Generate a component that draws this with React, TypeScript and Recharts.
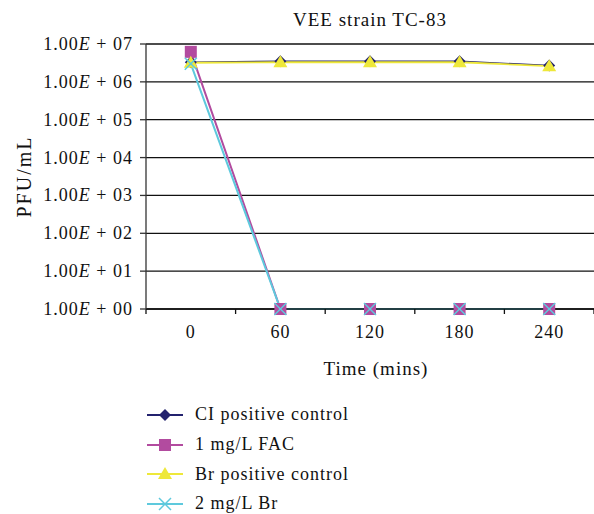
import React from 'react'
import {
  LineChart,
  Line,
  XAxis,
  YAxis,
  CartesianGrid,
  Label,
} from 'recharts'

const times = [0, 60, 120, 180, 240]
const ciPositive = [3.3e6, 3.5e6, 3.5e6, 3.5e6, 2.7e6]
const fac1 = [6.2e6, 1, 1, 1, 1]
const brPositive = [3.2e6, 3.3e6, 3.3e6, 3.3e6, 2.6e6]
const br2 = [3.0e6, 1, 1, 1, 1]

const yTicks = [1, 1e1, 1e2, 1e3, 1e4, 1e5, 1e6, 1e7]
const bandEdges = [-30, 30, 90, 150, 210, 270]

const data = times.map((t, i) => ({
  time: t,
  ci: ciPositive[i],
  fac: fac1[i],
  br: brPositive[i],
  br2: br2[i],
}))

const FONT = '"Liberation Serif", "DejaVu Serif", serif'
const LS = 1

const C_CI = '#23226e'
const C_FAC = '#b24b9f'
const C_BR = '#eee83a'
const C_BR2 = '#5ec9dd'

type DotProps = { cx?: number; cy?: number; index?: number }

function Diamond({ cx = 0, cy = 0 }: DotProps) {
  return (
    <polygon
      points={`${cx},${cy - 6} ${cx + 6},${cy} ${cx},${cy + 6} ${cx - 6},${cy}`}
      fill={C_CI}
    />
  )
}

function Square({ cx = 0, cy = 0 }: DotProps) {
  return <rect x={cx - 6} y={cy - 6} width={12} height={12} fill={C_FAC} />
}

function Triangle({ cx = 0, cy = 0 }: DotProps) {
  return (
    <polygon
      points={`${cx},${cy - 7} ${cx + 7},${cy + 5} ${cx - 7},${cy + 5}`}
      fill={C_BR}
    />
  )
}

function Cross({ cx = 0, cy = 0 }: DotProps) {
  return (
    <g stroke={C_BR2} strokeWidth={1.5}>
      <line x1={cx - 6} y1={cy - 6} x2={cx + 6} y2={cy + 6} />
      <line x1={cx - 6} y1={cy + 6} x2={cx + 6} y2={cy - 6} />
    </g>
  )
}

function YTick({ x, y, payload }: any) {
  const exp = Math.round(Math.log10(payload.value))
  const e = exp < 10 ? `0${exp}` : `${exp}`
  return (
    <text
      x={x}
      y={y}
      dy={6}
      textAnchor="end"
      fontFamily={FONT}
      fontSize={18}
      letterSpacing={LS}
      fill="#111"
    >
      1.00<tspan fontStyle="italic">E</tspan> + {e}
    </text>
  )
}

function XTick({ x, y, payload }: any) {
  return (
    <text
      x={x}
      y={y}
      dy={20}
      textAnchor="middle"
      fontFamily={FONT}
      fontSize={18}
      letterSpacing={LS}
      fill="#111"
    >
      {payload.value}
    </text>
  )
}

const legendItems = [
  { name: 'CI positive control', color: C_CI, Marker: Diamond },
  { name: '1 mg/L FAC', color: C_FAC, Marker: Square },
  { name: 'Br positive control', color: C_BR, Marker: Triangle },
  { name: '2 mg/L Br', color: C_BR2, Marker: Cross },
]

export default function App() {
  return (
    <div
      style={{
        position: 'absolute',
        left: 0,
        top: 0,
        width: 594,
        height: 514,
        background: '#fff',
        fontFamily: FONT,
      }}
    >
      <div
        style={{
          position: 'absolute',
          left: 146,
          width: 448,
          top: 9,
          textAlign: 'center',
          fontSize: 19,
          letterSpacing: LS,
          color: '#111',
        }}
      >
        VEE strain TC-83
      </div>
      <LineChart
        width={594}
        height={514}
        data={data}
        margin={{ top: 44, right: 0, left: 0, bottom: 134 }}
      >
        <CartesianGrid horizontal vertical={false} stroke="#111" strokeWidth={1.3} />
        <XAxis
          xAxisId="t"
          dataKey="time"
          type="number"
          domain={[-30, 270]}
          ticks={times}
          height={70}
          axisLine={false}
          tickLine={false}
          tick={<XTick />}
        >
          <Label
            value="Time (mins)"
            position="insideBottom"
            offset={5}
            dx={6}
            style={{ fontFamily: FONT, fontSize: 19, fill: '#111', letterSpacing: LS }}
          />
        </XAxis>
        <XAxis
          xAxisId="b"
          dataKey="time"
          type="number"
          domain={[-30, 270]}
          ticks={bandEdges}
          height={1}
          tickFormatter={() => ''}
          tickSize={5}
          stroke="#111"
          strokeWidth={1.3}
        />
        <YAxis
          scale="log"
          type="number"
          domain={[1, 1e7]}
          ticks={yTicks}
          width={146}
          tickSize={6}
          tickMargin={7}
          stroke="#333"
          strokeWidth={1.3}
          tick={<YTick />}
        >
          <Label
            content={({ viewBox }: any) => {
              const cx = viewBox.x + 24
              const cy = viewBox.y + viewBox.height / 2
              return (
                <text
                  x={cx}
                  y={cy}
                  transform={`rotate(-90 ${cx} ${cy})`}
                  textAnchor="middle"
                  dominantBaseline="central"
                  fontFamily={FONT}
                  fontSize={20}
                  letterSpacing={2}
                  fill="#111"
                >
                  PFU/mL
                </text>
              )
            }}
          />
        </YAxis>
        <Line
          xAxisId="t"
          dataKey="ci"
          stroke={C_CI}
          strokeWidth={1.5}
          dot={(p: any) => <Diamond key={`ci${p.index}`} cx={p.cx} cy={p.cy} />}
          activeDot={false}
          isAnimationActive={false}
        />
        <Line
          xAxisId="t"
          dataKey="fac"
          stroke={C_FAC}
          strokeWidth={2}
          dot={(p: any) => <Square key={`fac${p.index}`} cx={p.cx} cy={p.cy} />}
          activeDot={false}
          isAnimationActive={false}
        />
        <Line
          xAxisId="t"
          dataKey="br"
          stroke={C_BR}
          strokeWidth={1.8}
          dot={(p: any) => <Triangle key={`br${p.index}`} cx={p.cx} cy={p.cy} />}
          activeDot={false}
          isAnimationActive={false}
        />
        <Line
          xAxisId="t"
          dataKey="br2"
          stroke={C_BR2}
          strokeWidth={2}
          dot={(p: any) => <Cross key={`br2${p.index}`} cx={p.cx} cy={p.cy} />}
          activeDot={false}
          isAnimationActive={false}
        />
      </LineChart>
      <div style={{ position: 'absolute', left: 147, top: 400 }}>
        {legendItems.map(({ name, color, Marker }) => (
          <div
            key={name}
            style={{
              display: 'flex',
              alignItems: 'center',
              height: 29.7,
              fontSize: 18,
              letterSpacing: LS,
              color: '#111',
            }}
          >
            <svg width={36} height={20} style={{ marginRight: 12 }}>
              <line x1={0} y1={10} x2={36} y2={10} stroke={color} strokeWidth={2} />
              <Marker cx={18} cy={10} />
            </svg>
            {name}
          </div>
        ))}
      </div>
    </div>
  )
}
